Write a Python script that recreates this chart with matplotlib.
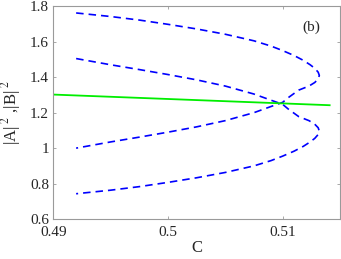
import numpy as np
import matplotlib
matplotlib.use('Agg')
import matplotlib.pyplot as plt

plt.rcParams['font.family'] = ['Liberation Serif', 'DejaVu Serif']
plt.rcParams['mathtext.fontset'] = 'stix'

# upper C-shaped branch (outer top -> tip -> inner bottom)
c_upper = [0.492, 0.495, 0.4975, 0.500, 0.5025, 0.505, 0.5075, 0.509, 0.510, 0.511,
           0.5118, 0.5124, 0.5128, 0.5131, 0.5132, 0.5131, 0.5128, 0.5123, 0.5114,
           0.5105, 0.510, 0.509, 0.5075, 0.505, 0.5025, 0.500, 0.4975, 0.495, 0.492]
y_upper = [1.762, 1.742, 1.722, 1.698, 1.672, 1.642, 1.605, 1.575, 1.55, 1.522,
           1.495, 1.47, 1.45, 1.428, 1.41, 1.39, 1.37, 1.35, 1.327,
           1.285, 1.258, 1.235, 1.20, 1.155, 1.12, 1.09, 1.062, 1.035, 1.0]

# lower C-shaped branch (inner top -> tip -> outer bottom)
c_lower = [0.492, 0.495, 0.4975, 0.500, 0.5025, 0.505, 0.5075, 0.509, 0.510, 0.5105,
           0.5114, 0.5123, 0.5128, 0.5131, 0.5132, 0.5131, 0.5128, 0.5124, 0.5118,
           0.511, 0.510, 0.509, 0.5075, 0.505, 0.5025, 0.500, 0.4975, 0.495, 0.492]
y_lower = [1.505, 1.47, 1.443, 1.415, 1.385, 1.35, 1.305, 1.27, 1.247, 1.22,
           1.178, 1.155, 1.135, 1.115, 1.095, 1.077, 1.055, 1.035, 1.01,
           0.983, 0.955, 0.93, 0.90, 0.863, 0.833, 0.807, 0.783, 0.763, 0.743]

# stable branch
c_green = [0.49, 0.5141]
y_green = [1.302, 1.242]

xticks = [0.49, 0.5, 0.51]
xtick_labels = ['0.49', '0.5', '0.51']
yticks = [0.6, 0.8, 1.0, 1.2, 1.4, 1.6, 1.8]
ytick_labels = ['0.6', '0.8', '1', '1.2', '1.4', '1.6', '1.8']

fig = plt.figure(figsize=(3.41, 2.59), dpi=100)
ax = fig.add_axes([0.156, 0.154, 0.841, 0.822])

ax.plot(c_upper, y_upper, color='#0000ff', lw=1.2, dashes=(4.5, 3))
ax.plot(c_lower, y_lower, color='#0000ff', lw=1.2, dashes=(4.5, 3))
ax.plot(c_green, y_green, color='#00ee00', lw=1.3)

ax.set_xlim(0.49, 0.515)
ax.set_ylim(0.6, 1.8)
ax.set_xticks(xticks)
ax.set_xticklabels(xtick_labels)
ax.set_yticks(yticks)
ax.set_yticklabels(ytick_labels)

for s in ax.spines.values():
    s.set_color('#9a9a9a')
    s.set_linewidth(0.8)
ax.tick_params(direction='in', length=2.5, width=0.6, color='#9a9a9a',
               labelsize=11, labelcolor='#262626', top=True, right=True)
ax.tick_params(axis='x', pad=5)
ax.tick_params(axis='y', pad=3)

ax.set_xlabel('C', fontsize=12, color='#262626', labelpad=1)
ax.set_ylabel(r'|A|$^{\ 2}$ ,|B|$^{\ 2}$', fontsize=12, color='#262626', labelpad=5)
ax.text(0.9, 0.9, '(b)', transform=ax.transAxes, fontsize=11, color='#262626',
        ha='center', va='center')

fig.savefig('out.png', dpi=100)
